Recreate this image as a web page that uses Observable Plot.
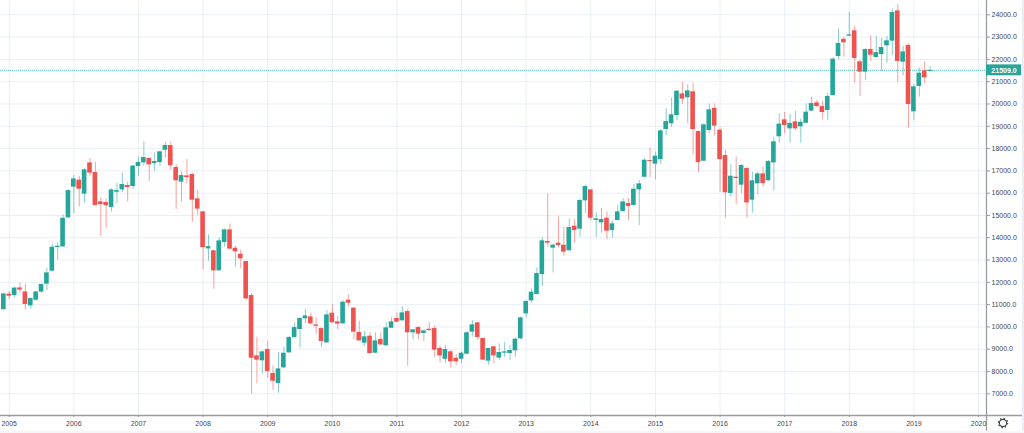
<!DOCTYPE html>
<html>
<head>
<meta charset="utf-8">
<script src="https://cdn.jsdelivr.net/npm/d3@7"></script>
<script src="https://cdn.jsdelivr.net/npm/@observablehq/plot@0.6"></script>
<style>
html,body{margin:0;padding:0;background:#fff;overflow:hidden}
#chart{position:relative;width:1024px;height:433px}
#chart svg{display:block}
#gear{position:absolute;left:996px;top:416px}
#bandR{position:absolute;left:1022px;top:0;width:2px;height:433px;background:#eceef5}
#bandB{position:absolute;left:0;top:431px;width:1024px;height:2px;background:#f5f6f8}
</style>
</head>
<body>
<div id="chart"><div id="bandR"></div><div id="bandB"></div></div>
<script>
// Monthly bars, first bar = Dec 2004
const firstBarYear = 2004, firstBarMonth = 11;
const open = [10840,11530,11470,11810,11630,11010,11260,11620,11975,12555,13610,13640,14935,16305,16620,15995,17390,16960,15650,15620,15400,16080,16185,16380,16335,17230,17390,17585,17360,17405,17955,18165,17185,16530,16810,16870,15785,15205,13550,13465,12570,13835,14400,13580,13315,12985,
11470,8775,8555,9060,7990,7540,8240,8910,9595,9950,10430,10515,10160,9995,9355,10680,10295,10205,11260,10905,9820,9340,9655,8895,9505,9225,10010,10445,10340,10755,9805,10040,9775,9965,9995,9105,8625,8955,8670,8625,8850,
9835,10250,9550,8540,9180,8675,8895,8880,9000,9535,10650,11230,11515,12405,13880,13585,13805,13715,13465,14565,14430,15695,16185,14820,14715,14920,14370,14820,15220,15575,15490,
16185,16750,17495,17335,17540,18880,19135,19505,20470,20295,20560,18790,17465,18835,19820,18850,17720,16025,16750,16395,17140,15725,16455,16900,16590,17390,18555,19310,18910,19220,19000,
19160,19700,20070,19905,19730,20395,22140,22910,23045,23285,21900,21440,22450,22095,22225,22615,22825,24175,21885,22630,19670,20800,21500,21470];
const high = [11570,11650,11840,12035,11975,11365,11660,11990,12690,13760,13820,15070,16185,16825,16795,17125,17585,17420,15830,15770,16230,16485,16945,16530,17275,17645,18330,17615,17825,17910,18300,18315,17300,16975,17540,16930,16155,15220,14180,13495,14045,14445,14655,13670,13510,13000,
11545,9610,8985,9415,8330,8925,9165,9640,10235,10475,10845,10680,10475,10025,10800,11070,10530,11245,11485,10935,10325,9875,9820,9805,9805,10250,10475,10695,10965,10845,9950,10085,9935,10265,10100,9210,9240,9015,8835,8955,9865,
10355,10265,9565,9120,9210,9310,9370,9240,9580,10505,11245,11755,12705,14045,16010,13775,15010,14520,14880,14850,15770,16395,16200,15145,15355,15205,14790,15500,15800,15800,16425,
16605,17570,18060,17870,18865,19805,20280,20620,20980,20875,20950,18805,19135,20025,20025,18955,17945,17320,17645,17305,17170,16975,16960,17200,17495,18540,19580,19640,19550,19700,19355,
20025,20325,20175,20130,20500,22080,23375,23000,24115,23490,21975,22480,23075,23030,22955,23030,24265,24460,22585,22705,20890,21630,21885,21690];
const low = [10800,11290,11365,11575,10830,10860,11215,11590,11690,12525,13045,13625,14920,15115,15415,15590,16795,15470,14105,14475,15190,15560,16065,15650,16200,16780,17245,16560,17020,17245,17615,17080,15310,15650,16455,14730,15040,12630,13000,11750,12570,13625,13510,12750,12660,11245,
7085,7525,7975,7765,7230,7110,8210,8895,9580,9120,10205,10160,9730,9165,9340,10235,9935,10190,10950,9490,9430,9195,8865,8865,9250,9195,9995,10265,10325,8315,9490,9490,9400,9875,8715,8450,8450,8225,8360,8420,8835,
9610,9475,8555,8360,8420,8570,8715,8570,8715,9490,10475,11130,11500,11870,13630,12480,13600,13225,13450,13805,14075,15145,14820,14060,14255,13955,14015,14790,15190,14820,15475,
14595,16735,16725,16635,17320,18610,18985,19280,19995,19135,17765,16960,17450,18685,18600,16070,14920,15860,15515,16010,14920,15145,15965,16305,16575,16155,18270,18685,18270,18835,18270,
19145,19685,19875,19310,19280,20380,21990,22110,23030,20950,20355,21065,21915,22050,21485,21840,22185,20980,21275,18955,19265,20325,20920,21450];
const close = [11540,11440,11800,11710,11070,11335,11630,11960,12480,13625,13670,14920,16155,16675,16215,17080,16930,15485,15530,15485,16185,16155,16425,16290,17245,17405,17630,17300,17450,17885,18165,17260,16590,16825,16735,15725,15325,13610,13655,12570,13910,14400,13540,13420,13105,11320,
8670,8585,8955,8075,7645,8195,8895,9595,10040,10445,10560,10205,10100,9415,10605,10250,10190,11170,11125,9835,9445,9625,8880,9445,9265,10025,10295,10280,10695,9805,9935,9745,9890,9905,9030,8775,9060,8510,8510,8895,9805,
10160,9595,8585,9105,8775,8925,8955,9015,9520,10475,11200,11620,12450,13910,13805,13715,13700,13405,14505,14370,15710,16335,14920,14890,14865,14340,14670,15205,15650,15445,16215,
16455,17510,17450,17690,18820,19235,19535,20590,20235,20605,18880,17405,19090,19760,19030,17540,16055,16795,16695,17275,15605,16590,16900,16470,17450,18330,19120,19060,19150,18910,19205,
19655,20040,19905,19640,20355,22020,22720,22750,23105,22050,21440,22450,22200,22315,22540,22840,24100,21915,22345,19995,20785,21395,21185,21521];

const yearLabels = [2005,2006,2007,2008,2009,2010,2011,2012,2013,2014,2015,2016,2017,2018,2019,2020];
const priceTicks = [7000,8000,9000,10000,11000,12000,13000,14000,15000,16000,17000,18000,19000,20000,21000,22000,23000,24000];
const lastPrice = 21509;

const upColor = "#26a69a", downColor = "#ef5350";
const grid = "#e9eff6", axisGray = "#9a9ca3", labelColor = "#43464f";

// The readings above were taken with a slightly short axis unit; this small
// calibration brings them onto the price axis printed in the picture.
const calibrated = v => v - (24000 - v) * 0.00493;

const bars = open.map((o, i) => ({
  i,
  open: calibrated(o), high: calibrated(high[i]), low: calibrated(low[i]), close: calibrated(close[i]),
  date: new Date(firstBarYear, firstBarMonth + i, 1),
  color: close[i] >= o ? upColor : downColor
}));
const barOfYear = y => (y - firstBarYear) * 12 - firstBarMonth;
const yearTicks = yearLabels.map(barOfYear);
const domainX = [-0.62, 182.48], domainY = [6026, 24642];

const plot = Plot.plot({
  width: 1024, height: 433,
  marginLeft: 0, marginRight: 38, marginTop: 0, marginBottom: 18,
  style: {background: "transparent", fontFamily: "'Liberation Sans', Arial, sans-serif", overflow: "visible"},
  x: {type: "linear", domain: domainX, range: [0, 986]},
  y: {type: "linear", domain: domainY, range: [415, 0]},
  marks: [
    Plot.gridX(yearTicks, {stroke: grid, strokeOpacity: 1, strokeWidth: 1}),
    Plot.gridY(priceTicks, {stroke: grid, strokeOpacity: 1, strokeWidth: 1}),
    Plot.ruleY([lastPrice], {stroke: upColor, strokeWidth: 1, strokeDasharray: "1 1", strokeOpacity: 0.8}),
    Plot.ruleX(bars, {x: "i", y1: "low", y2: "high", stroke: "color", strokeWidth: 1, strokeOpacity: 0.55}),
    Plot.rect(bars, {
      x1: d => d.i - 0.43, x2: d => d.i + 0.43,
      y1: d => Math.min(d.open, d.close), y2: d => Math.max(d.open, d.close),
      fill: "color"
    }),
    Plot.ruleX([domainX[1]], {y1: 5330, y2: domainY[1], stroke: axisGray, strokeWidth: 1.3}),
    Plot.ruleY([domainY[0]], {x1: domainX[0], x2: 190, stroke: axisGray, strokeWidth: 1.5}),
    Plot.axisY(priceTicks, {
      anchor: "right", tickSize: 3, tickPadding: 2, stroke: axisGray, fill: labelColor,
      fontSize: 7, tickFormat: d => d.toFixed(1), label: null
    }),
    Plot.axisX(yearTicks, {
      anchor: "bottom", tickSize: 2, tickPadding: 4, stroke: axisGray, fill: labelColor,
      fontSize: 7, tickFormat: i => String(yearLabels[yearTicks.indexOf(i)]), label: null
    }),
    Plot.rect([lastPrice], {
      x1: domainX[1], x2: 188.98, y1: d => d - 245, y2: d => d + 245, fill: upColor
    }),
    Plot.text([lastPrice], {
      x: 185.73, y: d => d, text: d => d.toFixed(1), fill: "#fff", fontSize: 7, fontWeight: 600
    })
  ]
});
document.getElementById("chart").prepend(plot);

const gear = document.createElement("div");
gear.id = "gear";
gear.innerHTML = '<svg width="14" height="14" viewBox="0 0 14 14"><circle cx="7" cy="7" r="3.6" fill="none" stroke="#3c3f48" stroke-width="1.1"/><circle cx="7" cy="7" r="4.7" fill="none" stroke="#3c3f48" stroke-width="1.2" stroke-dasharray="1.5 2.19"/></svg>';
document.getElementById("chart").append(gear);
</script>
</body>
</html>
